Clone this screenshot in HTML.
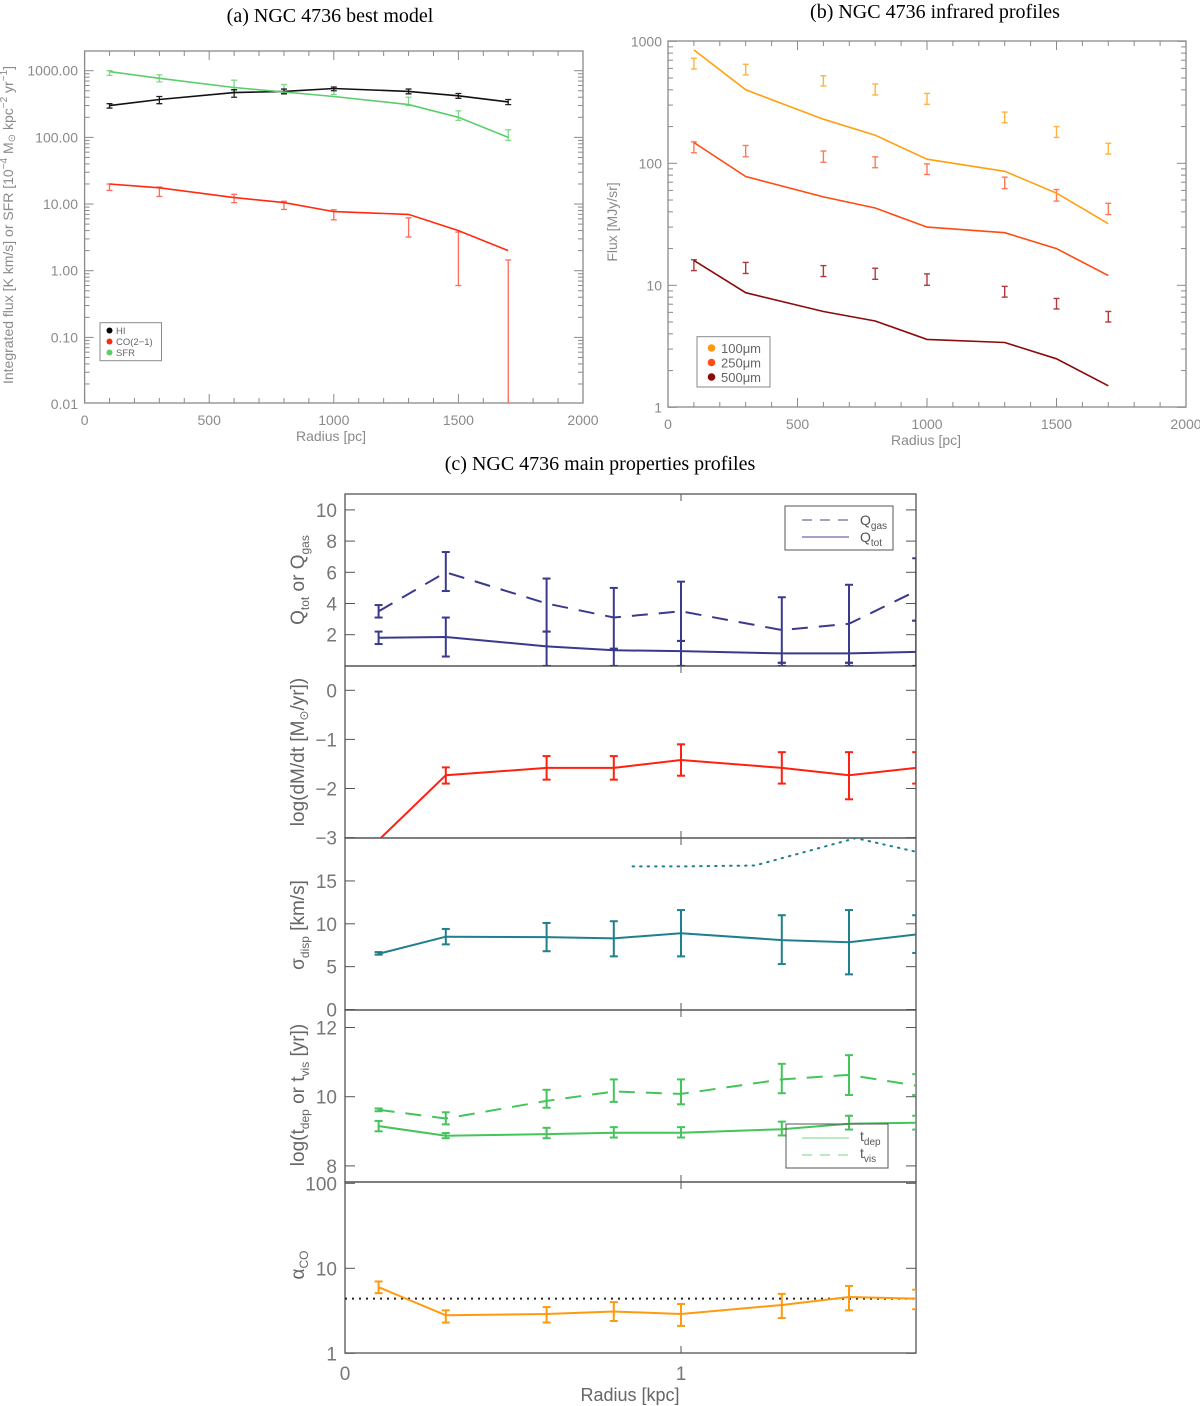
<!DOCTYPE html>
<html><head><meta charset="utf-8"><style>
html,body{margin:0;padding:0;background:#fff;}
svg{display:block;font-family:"Liberation Sans",sans-serif;}
</style></head><body>
<svg id="fig" width="1200" height="1406" viewBox="0 0 1200 1406" xmlns="http://www.w3.org/2000/svg">
<defs>
<clipPath id="cA"><rect x="84.6" y="51" width="498.4" height="352"/></clipPath>
<clipPath id="cB"><rect x="668" y="41" width="518" height="366"/></clipPath>
<clipPath id="c1"><rect x="345" y="494" width="571" height="172"/></clipPath>
<clipPath id="c2"><rect x="345" y="666" width="571" height="172"/></clipPath>
<clipPath id="c3"><rect x="345" y="838" width="571" height="172"/></clipPath>
<clipPath id="c4"><rect x="345" y="1010" width="571" height="172"/></clipPath>
<clipPath id="c5"><rect x="345" y="1182" width="571" height="171"/></clipPath>
</defs>
<text x="330" y="22" text-anchor="middle" font-family="Liberation Serif,serif" font-size="20">(a) NGC 4736 best model</text>
<text x="935" y="18" text-anchor="middle" font-family="Liberation Serif,serif" font-size="20">(b) NGC 4736 infrared profiles</text>
<text x="600" y="470" text-anchor="middle" font-family="Liberation Serif,serif" font-size="20">(c) NGC 4736 main properties profiles</text>
<g id="root"></g>
</svg>
<script>
// ---------- data ----------
const radiusPc = [100, 300, 600, 800, 1000, 1300, 1500, 1700];
const radiusKpc = [0.1, 0.3, 0.6, 0.8, 1.0, 1.3, 1.5, 1.7];
// panel a
const hiModel = [300, 370, 470, 490, 540, 490, 420, 340];
const hiLo = [275, 320, 400, 450, 500, 450, 385, 310];
const hiHi = [320, 410, 520, 530, 570, 530, 455, 370];
const sfrModel = [970, 770, 560, 480, 410, 310, 200, 100];
const sfrLo = [850, 680, 500, 460, 440, 300, 180, 90];
const sfrHi = [1000, 870, 720, 620, 540, 400, 250, 130];
const coModel = [20, 17.5, 12.5, 10.5, 7.7, 7.0, 4.0, 2.0];
const coLo = [16, 13, 10.5, 8.3, 5.8, 3.2, 0.6, 0.01];
const coHi = [20, 18, 14, 11, 8.2, 6.2, 3.8, 1.45];
const aTicksY = [1000, 100, 10, 1, 0.1, 0.01];
const aTickLabelsY = ["1000.00", "100.00", "10.00", "1.00", "0.10", "0.01"];
// panel b
const ir100Model = [850, 400, 230, 170, 108, 86, 57, 32];
const ir100Lo = [593, 530, 430, 363, 304, 215, 163, 119];
const ir100Hi = [726, 648, 522, 447, 374, 263, 200, 146];
const ir250Model = [148, 78, 53, 43, 30, 27, 20, 12];
const ir250Lo = [122, 113, 102, 92, 81, 62, 49, 38];
const ir250Hi = [150, 140, 126, 113, 99, 77, 61, 47];
const ir500Model = [16, 8.7, 6.1, 5.1, 3.6, 3.4, 2.5, 1.5];
const ir500Lo = [13.2, 12.5, 11.8, 11.2, 10.0, 8.0, 6.4, 5.0];
const ir500Hi = [16.2, 15.4, 14.5, 13.8, 12.4, 9.8, 7.8, 6.1];
const bTicksY = [1000, 100, 10, 1];
const xTicksPc = [0, 500, 1000, 1500, 2000];
// panel c
const qGas = [3.5, 6.0, 4.0, 3.1, 3.5, 2.3, 2.7, 4.8];
const qGasLo = [3.1, 4.8, 2.2, 1.1, 1.6, 0.2, 0.2, 2.9];
const qGasHi = [3.9, 7.3, 5.6, 5.0, 5.4, 4.4, 5.2, 6.9];
const qTot = [1.8, 1.85, 1.25, 1.0, 0.95, 0.8, 0.8, 0.9];
const qTotLo = [1.4, 0.6, 0.0, 0.0, 0.0, 0.0, 0.0, 0.0];
const qTotHi = [2.2, 3.1, 2.2, 1.1, 1.6, 0.2, 0.2, 2.9];
const dmdt = [-3.05, -1.73, -1.58, -1.58, -1.42, -1.58, -1.73, -1.58];
const dmdtLo = [-3.05, -1.9, -1.82, -1.82, -1.74, -1.9, -2.22, -1.9];
const dmdtHi = [-3.05, -1.57, -1.34, -1.34, -1.1, -1.26, -1.26, -1.26];
const sigma = [6.5, 8.5, 8.45, 8.3, 8.9, 8.1, 7.85, 8.75];
const sigmaLo = [6.4, 7.6, 6.8, 6.2, 6.2, 5.3, 4.1, 6.6];
const sigmaHi = [6.7, 9.4, 10.1, 10.3, 11.6, 11.0, 11.6, 11.0];
const sigmaDotR = [0.856, 1.0, 1.22, 1.52, 1.7];
const sigmaDotV = [16.7, 16.7, 16.8, 20.0, 18.4];
const tVis = [9.62, 9.37, 9.88, 10.15, 10.08, 10.5, 10.63, 10.32];
const tVisLo = [9.58, 9.2, 9.68, 9.85, 9.78, 10.1, 10.05, 10.05];
const tVisHi = [9.66, 9.55, 10.2, 10.5, 10.5, 10.95, 11.2, 10.65];
const tDep = [9.15, 8.87, 8.92, 8.96, 8.96, 9.06, 9.22, 9.25];
const tDepLo = [9.0, 8.8, 8.8, 8.82, 8.82, 8.88, 9.05, 9.05];
const tDepHi = [9.3, 8.95, 9.1, 9.12, 9.12, 9.28, 9.45, 9.45];
const alphaCo = [6.0, 2.8, 2.9, 3.1, 2.9, 3.7, 4.6, 4.4];
const alphaLo = [5.1, 2.3, 2.3, 2.4, 2.1, 2.6, 3.2, 3.3];
const alphaHi = [7.0, 3.2, 3.5, 4.0, 3.8, 5.0, 6.2, 5.6];
const alphaRef = [4.4];

// ---------- scales ----------
const L = Math.log10;
const xA = r => 84.6 + r * 0.2492;
const yA = v => 70.7 - (L(v) - 3) * 66.67;
const xB = r => 668 + r * 0.259;
const yB = v => 41.3 - (L(v) - 3) * 122;
const xC = k => 345 + k * 336;
const y1 = v => 665.9 - v * 15.6;
const y2 = v => 690.3 - v * 49.1;
const y3 = v => 1009.5 - v * 8.57;
const y4 = v => 1096.7 - (v - 10) * 34.6;
const y5 = v => 1353.3 - L(v) * 85;

const NS = "http://www.w3.org/2000/svg";
const root = document.getElementById('root');
function mk(tag, attrs, name, parent) {
  const e = document.createElementNS(NS, tag);
  for (const k in attrs) e.setAttribute(k, attrs[k]);
  
  
  (parent || root).appendChild(e);
  return e;
}
function txt(x, y, s, attrs, name, parent) {
  const e = mk('text', Object.assign({x: x, y: y}, attrs), name, parent);
  e.textContent = s;
  return e;
}
function line(xs, ys, fx, fy, attrs, name, clip) {
  const g = mk('g', clip ? {'clip-path': 'url(#' + clip + ')'} : {}, name + '-group');
  const pts = xs.map((x, i) => fx(x).toFixed(1) + ',' + fy(ys[i]).toFixed(1)).join(' ');
  mk('polyline', Object.assign({points: pts, fill: 'none'}, attrs), name, g);
}
function errs(xs, lo, hi, fx, fy, color, w, cap, name, clip) {
  const g = mk('g', clip ? {'clip-path': 'url(#' + clip + ')'} : {}, name);
  xs.forEach((x, i) => {
    const px = fx(x), a = fy(lo[i]), b = fy(hi[i]);
    mk('line', {x1: px, x2: px, y1: a, y2: b, stroke: color, 'stroke-width': w}, name + '-bar', g);
    mk('line', {x1: px - cap, x2: px + cap, y1: a, y2: a, stroke: color, 'stroke-width': w}, name + '-cap-low', g);
    mk('line', {x1: px - cap, x2: px + cap, y1: b, y2: b, stroke: color, 'stroke-width': w}, name + '-cap-high', g);
  });
}

// ---------- panel a ----------
const grey = '#8a8a8a';
mk('rect', {x: 84.6, y: 51, width: 498.4, height: 352, fill: 'none', stroke: grey, 'stroke-width': 1.3}, 'plot-frame-a');
for (let r = 0; r <= 2000; r += 100) {
  const big = r % 500 === 0, len = big ? 9 : 5;
  mk('line', {x1: xA(r), x2: xA(r), y1: 403, y2: 403 - len, stroke: grey}, 'x-tick-a');
  mk('line', {x1: xA(r), x2: xA(r), y1: 51, y2: 51 + len, stroke: grey}, 'x-tick-a-top');
}
for (let d = -2; d <= 3; d++) for (let m = 1; m <= 9; m++) {
  const v = m * Math.pow(10, d), y = yA(v);
  if (y < 51 || y > 403) continue;
  const len = m === 1 ? 9 : 5;
  mk('line', {x1: 84.6, x2: 84.6 + len, y1: y, y2: y, stroke: grey}, 'y-tick-a');
  mk('line', {x1: 583, x2: 583 - len, y1: y, y2: y, stroke: grey}, 'y-tick-a-right');
}
xTicksPc.forEach(r => txt(xA(r), 425, String(r), {'text-anchor': 'middle', 'font-size': 14, fill: grey}, 'x-tick-label-a'));
aTicksY.forEach((v, i) => txt(78, yA(v) + 5, aTickLabelsY[i], {'text-anchor': 'end', 'font-size': 14, fill: grey}, 'y-tick-label-a'));
txt(331, 441, 'Radius [pc]', {'text-anchor': 'middle', 'font-size': 14, fill: grey}, 'x-axis-title-a');
const ya = mk('text', {x: 0, y: 0, transform: 'translate(13,225) rotate(-90)', 'text-anchor': 'middle', 'font-size': 14, fill: grey}, 'y-axis-title-a');
ya.innerHTML = 'Integrated flux [K km/s] or SFR [10<tspan dy="-6" font-size="10">−4</tspan><tspan dy="6"> M</tspan><tspan font-size="10" dy="2">⊙</tspan><tspan dy="-2"> kpc</tspan><tspan dy="-6" font-size="10">−2</tspan><tspan dy="6"> yr</tspan><tspan dy="-6" font-size="10">−1</tspan><tspan dy="6">]</tspan>';
errs(radiusPc, sfrLo, sfrHi, xA, yA, '#7fd98a', 1.3, 3, 'sfr-errorbars', 'cA');
errs(radiusPc, hiLo, hiHi, xA, yA, '#222', 1.3, 3, 'hi-errorbars', 'cA');
errs(radiusPc, coLo, coHi, xA, yA, '#ff6a5a', 1.3, 3, 'co-errorbars', 'cA');
line(radiusPc, hiModel, xA, yA, {stroke: '#111', 'stroke-width': 1.6}, 'hi-line', 'cA');
line(radiusPc, sfrModel, xA, yA, {stroke: '#5ccd6a', 'stroke-width': 1.6}, 'sfr-line', 'cA');
line(radiusPc, coModel, xA, yA, {stroke: '#ff2a10', 'stroke-width': 1.6}, 'co-line', 'cA');
mk('rect', {x: 100, y: 322.7, width: 61.5, height: 38, fill: '#fff', stroke: grey}, 'legend-a');
[['HI', '#000'], ['CO(2−1)', '#ff2a10'], ['SFR', '#5ccd6a']].forEach((e, i) => {
  mk('circle', {cx: 109.5, cy: 330.5 + i * 11, r: 3, fill: e[1]}, 'legend-a-marker');
  txt(116, 334 + i * 11, e[0], {'font-size': 9.5, fill: '#666'}, 'legend-a-label');
});

// ---------- panel b ----------
mk('rect', {x: 668, y: 41, width: 518, height: 366, fill: 'none', stroke: grey, 'stroke-width': 1.3}, 'plot-frame-b');
for (let r = 0; r <= 2000; r += 100) {
  const big = r % 500 === 0, len = big ? 9 : 5;
  mk('line', {x1: xB(r), x2: xB(r), y1: 407, y2: 407 - len, stroke: grey}, 'x-tick-b');
  mk('line', {x1: xB(r), x2: xB(r), y1: 41, y2: 41 + len, stroke: grey}, 'x-tick-b-top');
}
for (let d = 0; d <= 3; d++) for (let m = 1; m <= 9; m++) {
  const v = m * Math.pow(10, d), y = yB(v);
  if (y < 40 || y > 408) continue;
  const len = m === 1 ? 9 : 5;
  mk('line', {x1: 668, x2: 668 + len, y1: y, y2: y, stroke: grey}, 'y-tick-b');
  mk('line', {x1: 1186, x2: 1186 - len, y1: y, y2: y, stroke: grey}, 'y-tick-b-right');
}
xTicksPc.forEach(r => txt(xB(r), 429, String(r), {'text-anchor': 'middle', 'font-size': 14, fill: grey}, 'x-tick-label-b'));
bTicksY.forEach(v => txt(662, yB(v) + 5, String(v), {'text-anchor': 'end', 'font-size': 14, fill: grey}, 'y-tick-label-b'));
txt(926, 445, 'Radius [pc]', {'text-anchor': 'middle', 'font-size': 14, fill: grey}, 'x-axis-title-b');
txt(0, 0, 'Flux [MJy/sr]', {transform: 'translate(617,222) rotate(-90)', 'text-anchor': 'middle', 'font-size': 14, fill: grey}, 'y-axis-title-b');
errs(radiusPc, ir100Lo, ir100Hi, xB, yB, '#ffb340', 1.4, 3, 'ir100-errorbars', 'cB');
errs(radiusPc, ir250Lo, ir250Hi, xB, yB, '#ff7a55', 1.4, 3, 'ir250-errorbars', 'cB');
errs(radiusPc, ir500Lo, ir500Hi, xB, yB, '#b03a3a', 1.4, 3, 'ir500-errorbars', 'cB');
line(radiusPc, ir100Model, xB, yB, {stroke: '#ffa010', 'stroke-width': 1.6}, 'ir100-line', 'cB');
line(radiusPc, ir250Model, xB, yB, {stroke: '#ff4a10', 'stroke-width': 1.6}, 'ir250-line', 'cB');
line(radiusPc, ir500Model, xB, yB, {stroke: '#8b0a0a', 'stroke-width': 1.6}, 'ir500-line', 'cB');
mk('rect', {x: 697, y: 336.7, width: 73, height: 50.3, fill: '#fff', stroke: grey}, 'legend-b');
[['100', '#ff9a10'], ['250', '#ff4a10'], ['500', '#8b0a0a']].forEach((e, i) => {
  mk('circle', {cx: 711.5, cy: 348 + i * 14.5, r: 3.8, fill: e[1]}, 'legend-b-marker');
  txt(721, 353 + i * 14.5, e[0] + 'μm', {'font-size': 13, fill: '#666'}, 'legend-b-label');
});

// ---------- panel c ----------
const dk = '#555';
const panels = [[494, 666], [666, 838], [838, 1010], [1010, 1182], [1182, 1353]];
panels.forEach((p, i) => {
  mk('rect', {x: 345, y: p[0], width: 571, height: p[1] - p[0], fill: 'none', stroke: dk, 'stroke-width': 1.3}, 'subplot-frame-' + (i + 1));
  [0, 1].forEach(k => {
    mk('line', {x1: xC(k), x2: xC(k), y1: p[0], y2: p[0] + 7, stroke: dk}, 'x-tick-c');
    mk('line', {x1: xC(k), x2: xC(k), y1: p[1], y2: p[1] - 7, stroke: dk}, 'x-tick-c');
  });
});
function yticks(vals, fy, labels) {
  vals.forEach((v, i) => {
    const y = fy(v);
    mk('line', {x1: 345, x2: 355, y1: y, y2: y, stroke: dk}, 'y-tick-c');
    mk('line', {x1: 916, x2: 906, y1: y, y2: y, stroke: dk}, 'y-tick-c-right');
    txt(337, y + 7, labels[i], {'text-anchor': 'end', 'font-size': 19, fill: '#777'}, 'y-tick-label-c');
  });
}
yticks([10, 8, 6, 4, 2], y1, ['10', '8', '6', '4', '2']);
yticks([0, -1, -2, -3], y2, ['0', '−1', '−2', '−3']);
yticks([15, 10, 5, 0], y3, ['15', '10', '5', '0']);
yticks([12, 10, 8], y4, ['12', '10', '8']);
yticks([100, 10, 1], y5, ['100', '10', '1']);
txt(xC(0), 1380, '0', {'text-anchor': 'middle', 'font-size': 19, fill: '#777'}, 'x-tick-label-c');
txt(xC(1), 1380, '1', {'text-anchor': 'middle', 'font-size': 19, fill: '#777'}, 'x-tick-label-c');
txt(630, 1401, 'Radius [kpc]', {'text-anchor': 'middle', 'font-size': 18, fill: '#666'}, 'x-axis-title-c');

function ylab(cy, html, name) {
  const t = mk('text', {x: 0, y: 0, transform: 'translate(304,' + cy + ') rotate(-90)', 'text-anchor': 'middle', 'font-size': 19, fill: '#666'}, name);
  t.innerHTML = html;
}
ylab(580, 'Q<tspan font-size="12" dy="5">tot</tspan><tspan dy="-5">  or  Q</tspan><tspan font-size="12" dy="5">gas</tspan>', 'y-axis-title-q');
ylab(752, 'log(dM/dt  [M<tspan font-size="12" dy="4">⊙</tspan><tspan dy="-4">/yr])</tspan>', 'y-axis-title-dmdt');
ylab(925, 'σ<tspan font-size="12" dy="5">disp</tspan><tspan dy="-5">  [km/s]</tspan>', 'y-axis-title-sigma');
ylab(1095, 'log(t<tspan font-size="12" dy="5">dep</tspan><tspan dy="-5">  or  t</tspan><tspan font-size="12" dy="5">vis</tspan><tspan dy="-5">  [yr])</tspan>', 'y-axis-title-t');
ylab(1265, 'α<tspan font-size="12" dy="4">CO</tspan>', 'y-axis-title-alpha');

const navy = '#3a3a8c';
errs(radiusKpc, qGasLo, qGasHi, xC, y1, navy, 2, 4, 'qgas-errorbars', 'c1');
errs(radiusKpc, qTotLo, qTotHi, xC, y1, navy, 2, 4, 'qtot-errorbars', 'c1');
line(radiusKpc, qGas, xC, y1, {stroke: navy, 'stroke-width': 2, 'stroke-dasharray': '16,11'}, 'qgas-line', 'c1');
line(radiusKpc, qTot, xC, y1, {stroke: navy, 'stroke-width': 2}, 'qtot-line', 'c1');
mk('rect', {x: 785, y: 506, width: 108, height: 44, fill: '#fff', stroke: dk}, 'legend-q');
mk('line', {x1: 802, x2: 849, y1: 520, y2: 520, stroke: '#6a6aa8', 'stroke-width': 1.3, 'stroke-dasharray': '10,8'}, 'legend-qgas-swatch');
mk('line', {x1: 802, x2: 849, y1: 537, y2: 537, stroke: '#6a6aa8', 'stroke-width': 1.3}, 'legend-qtot-swatch');
mk('text', {x: 860, y: 525, 'font-size': 14, fill: '#555'}, 'legend-qgas-label').innerHTML = 'Q<tspan font-size="10" dy="4">gas</tspan>';
mk('text', {x: 860, y: 542, 'font-size': 14, fill: '#555'}, 'legend-qtot-label').innerHTML = 'Q<tspan font-size="10" dy="4">tot</tspan>';

const red = '#ff2010';
errs(radiusKpc, dmdtLo, dmdtHi, xC, y2, red, 2, 4, 'dmdt-errorbars', 'c2');
line(radiusKpc, dmdt, xC, y2, {stroke: red, 'stroke-width': 2}, 'dmdt-line', 'c2');

const teal = '#1f7f8c';
errs(radiusKpc, sigmaLo, sigmaHi, xC, y3, teal, 2, 4, 'sigma-errorbars', 'c3');
line(radiusKpc, sigma, xC, y3, {stroke: teal, 'stroke-width': 2}, 'sigma-line', 'c3');
line(sigmaDotR, sigmaDotV, xC, y3, {stroke: teal, 'stroke-width': 2, 'stroke-dasharray': '1.5,6', 'stroke-linecap': 'round'}, 'sigma-dotted-line', 'c3');

const green = '#44c45a';
errs(radiusKpc, tVisLo, tVisHi, xC, y4, green, 2, 4, 'tvis-errorbars', 'c4');
errs(radiusKpc, tDepLo, tDepHi, xC, y4, green, 2, 4, 'tdep-errorbars', 'c4');
line(radiusKpc, tVis, xC, y4, {stroke: green, 'stroke-width': 2, 'stroke-dasharray': '16,11'}, 'tvis-line', 'c4');
line(radiusKpc, tDep, xC, y4, {stroke: green, 'stroke-width': 2}, 'tdep-line', 'c4');
mk('rect', {x: 786, y: 1124, width: 102, height: 44, fill: 'none', stroke: dk}, 'legend-t');
mk('line', {x1: 802, x2: 849, y1: 1138, y2: 1138, stroke: '#8ee09a', 'stroke-width': 1.3}, 'legend-tdep-swatch');
mk('line', {x1: 802, x2: 849, y1: 1155, y2: 1155, stroke: '#8ee09a', 'stroke-width': 1.3, 'stroke-dasharray': '10,8'}, 'legend-tvis-swatch');
mk('text', {x: 860, y: 1141, 'font-size': 14, fill: '#555'}, 'legend-tdep-label').innerHTML = 't<tspan font-size="10" dy="4">dep</tspan>';
mk('text', {x: 860, y: 1158, 'font-size': 14, fill: '#555'}, 'legend-tvis-label').innerHTML = 't<tspan font-size="10" dy="4">vis</tspan>';

const orange = '#ff9a10';
mk('line', {x1: 345, x2: 916, y1: y5(alphaRef[0]), y2: y5(alphaRef[0]), stroke: '#222', 'stroke-width': 2, 'stroke-dasharray': '2,5'}, 'alpha-reference-line');
errs(radiusKpc, alphaLo, alphaHi, xC, y5, orange, 2, 4, 'alpha-errorbars', 'c5');
line(radiusKpc, alphaCo, xC, y5, {stroke: orange, 'stroke-width': 2}, 'alpha-line', 'c5');
</script>
</body></html>
